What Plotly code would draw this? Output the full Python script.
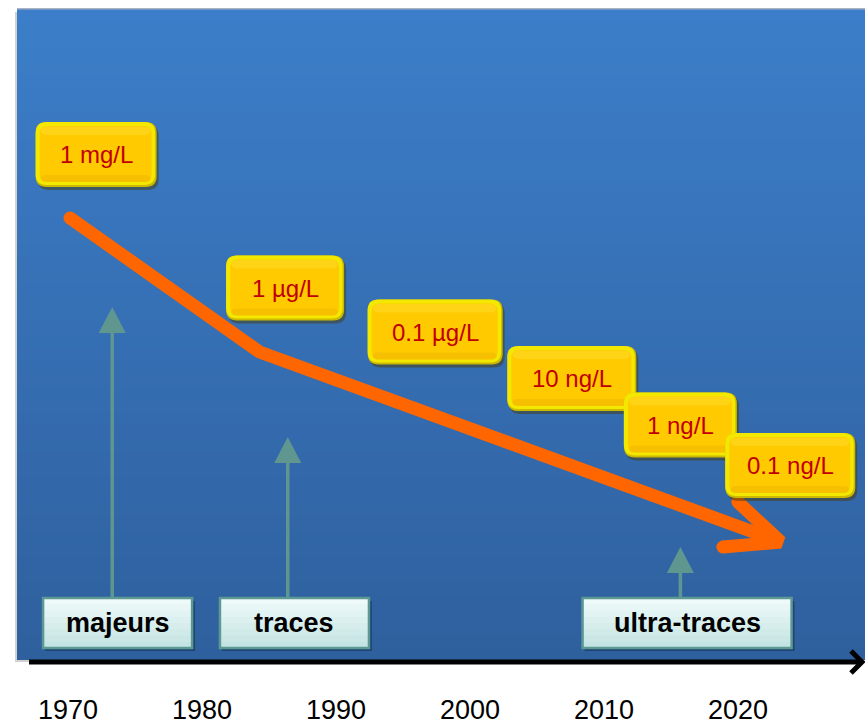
import plotly.graph_objects as go

# ---------------- data ----------------
years = [1970, 1980, 1990, 2000, 2010, 2020]
year_labels = ["1970", "1980", "1990", "2000", "2010", "2020"]

conc_labels = ["1 mg/L", "1 µg/L", "0.1 µg/L", "10 ng/L", "1 ng/L", "0.1 ng/L"]
conc_year = [1972.1, 1986.2, 1997.4, 2007.6, 2015.7, 2023.9]
conc_level = [154.5, 288, 332, 378.5, 425, 465.5]

categories = ["majeurs", "traces", "ultra-traces"]
cat_year = [1973.7, 1986.9, 2016.2]
cat_arrow_year = [1973.3, 1986.4, 2015.7]
cat_arrow_top = [307, 437, 547]

trend_year = [1970.15, 1984.3, 2023.2]
trend_level = [218, 352, 542]

# ---------------- style ----------------
W, H = 865, 724
PLOT_H = 662
PX_PER_YEAR = 13.4
X0 = 1970 - 68 / PX_PER_YEAR
X1 = X0 + W / PX_PER_YEAR

conc_box_w = [121, 118, 135, 129, 113, 130]
conc_box_h = 65
cat_box_w = [149, 149, 209]
cat_box_y = (598, 648)

ORANGE = "#ff6600"
TEAL = "#5f9690"


def X(px):
    return X0 + px / PX_PER_YEAR


def PX(yr):
    return (yr - X0) * PX_PER_YEAR


def PY(py):  # pixel -> paper (vertical)
    return (PLOT_H - py) / PLOT_H


def rr(x0, y0, x1, y1, r):
    """rounded rectangle path in data coords (x from px)."""
    pts = [
        f"M{X(x0 + r)},{y0}", f"L{X(x1 - r)},{y0}", f"Q{X(x1)},{y0} {X(x1)},{y0 + r}",
        f"L{X(x1)},{y1 - r}", f"Q{X(x1)},{y1} {X(x1 - r)},{y1}",
        f"L{X(x0 + r)},{y1}", f"Q{X(x0)},{y1} {X(x0)},{y1 - r}",
        f"L{X(x0)},{y0 + r}", f"Q{X(x0)},{y0} {X(x0 + r)},{y0}", "Z",
    ]
    return " ".join(pts)


def mix(c1, c2, t):
    return "rgb(%d,%d,%d)" % tuple(round(a + (b - a) * t) for a, b in zip(c1, c2))


shapes = []

# panel shadow (bottom / left)
shapes.append(dict(type="rect", xref="x", yref="y", x0=X(15), x1=X(865), y0=12, y1=664,
                   fillcolor="rgba(0,0,0,0.18)", line=dict(width=0), layer="below"))
shapes.append(dict(type="line", xref="x", yref="y", x0=X(17), x1=X(865), y0=9, y1=9,
                   line=dict(color="rgba(90,110,140,0.7)", width=1.5), layer="below"))
# panel gradient
top_c, bot_c = (60, 126, 201), (47, 96, 158)
N = 50
p_top, p_bot = 9.5, 660
h = (p_bot - p_top) / N
for i in range(N):
    shapes.append(dict(type="rect", xref="x", yref="y", x0=X(17), x1=X(866),
                       y0=p_top + i * h, y1=min(p_bot, p_top + (i + 1) * h + 2),
                       fillcolor=mix(top_c, bot_c, i / (N - 1)), line=dict(width=0), layer="below"))

# axis line + chevron (paper refs)
shapes.append(dict(type="line", xref="paper", yref="paper", x0=29 / W, x1=860 / W,
                   y0=PY(662), y1=PY(662), line=dict(color="black", width=5), layer="above"))
shapes.append(dict(type="path", xref="paper", yref="paper",
                   path=f"M{851 / W},{PY(651)} L{862 / W},{PY(662)} L{851 / W},{PY(673)}",
                   line=dict(color="black", width=5), layer="above"))

# grey arrows
for ay, top in zip(cat_arrow_year, cat_arrow_top):
    ax = PX(ay)
    shapes.append(dict(type="line", xref="x", yref="y", x0=ay, x1=ay, y0=cat_box_y[0], y1=top + 24,
                       line=dict(color=TEAL, width=3.5), layer="above"))
    shapes.append(dict(type="path", xref="x", yref="y",
                       path=f"M{X(ax)},{top} L{X(ax - 13.5)},{top + 26} L{X(ax + 13.5)},{top + 26} Z",
                       fillcolor=TEAL, line=dict(width=0), layer="above"))

# category boxes
c_top, c_bot = (238, 249, 249), (196, 228, 227)
for cy, w in zip(cat_year, cat_box_w):
    cx = PX(cy)
    x0, x1 = cx - w / 2, cx + w / 2
    y0, y1 = cat_box_y
    shapes.append(dict(type="rect", xref="x", yref="y", x0=X(x0 + 2), x1=X(x1 + 3), y0=y0 + 3, y1=y1 + 3,
                       fillcolor="rgba(0,0,0,0.28)", line=dict(width=0), layer="above"))
    M = 8
    hh = (y1 - y0) / M
    for i in range(M):
        shapes.append(dict(type="rect", xref="x", yref="y", x0=X(x0), x1=X(x1),
                           y0=y0 + i * hh, y1=min(y1, y0 + (i + 1) * hh + 1),
                           fillcolor=mix(c_top, c_bot, i / (M - 1)), line=dict(width=0), layer="above"))
    shapes.append(dict(type="rect", xref="x", yref="y", x0=X(x0), x1=X(x1), y0=y0, y1=y1,
                       fillcolor="rgba(0,0,0,0)", line=dict(color="#5c9894", width=2.5), layer="above"))

# yellow concentration boxes
for yr, lev, w in zip(conc_year, conc_level, conc_box_w):
    cx = PX(yr)
    x0, x1 = cx - w / 2, cx + w / 2
    y0, y1 = lev - conc_box_h / 2, lev + conc_box_h / 2
    shapes.append(dict(type="path", xref="x", yref="y", path=rr(x0 + 2, y0 + 3, x1 + 2, y1 + 3, 11),
                       fillcolor="rgba(70,60,10,0.5)", line=dict(width=0), layer="above"))
    shapes.append(dict(type="path", xref="x", yref="y", path=rr(x0, y0, x1, y1, 11),
                       fillcolor="#cdb900", line=dict(width=0), layer="above"))
    shapes.append(dict(type="path", xref="x", yref="y", path=rr(x0, y0, x1 - 1.5, y1 - 2, 11),
                       fillcolor="#f3e800", line=dict(width=0), layer="above"))
    shapes.append(dict(type="path", xref="x", yref="y", path=rr(x0 + 4, y0 + 4, x1 - 5, y1 - 5, 8),
                       fillcolor="#ffca00", line=dict(width=0), layer="above"))
    shapes.append(dict(type="path", xref="x", yref="y", path=rr(x0 + 5, y0 + 4.5, x1 - 6, y0 + 13, 6),
                       fillcolor="rgba(255,220,40,0.55)", line=dict(width=0), layer="above"))
    shapes.append(dict(type="path", xref="x", yref="y", path=rr(x0 + 5, y1 - 12, x1 - 6, y1 - 5, 5),
                       fillcolor="rgba(235,178,0,0.45)", line=dict(width=0), layer="above"))

fig = go.Figure()

# orange trend arrow
fig.add_trace(go.Scatter(x=trend_year, y=trend_level, mode="lines",
                         line=dict(color=ORANGE, width=13), hoverinfo="skip", showlegend=False))
tip_px = PX(trend_year[-1])
tip_y = trend_level[-1]
barb_x = [X(tip_px - 43), trend_year[-1], X(tip_px - 58)]
barb_y = [tip_y - 40, tip_y, tip_y + 5]
fig.add_trace(go.Scatter(x=barb_x, y=barb_y, mode="lines",
                         line=dict(color=ORANGE, width=13), hoverinfo="skip", showlegend=False))
fig.add_trace(go.Scatter(x=[trend_year[0], barb_x[0], barb_x[2]], y=[trend_level[0], barb_y[0], barb_y[2]],
                         mode="markers", marker=dict(color=ORANGE, size=13, line=dict(width=0)),
                         hoverinfo="skip", showlegend=False))

annotations = []
for lab, yr, lev in zip(conc_labels, conc_year, conc_level):
    annotations.append(dict(x=yr, y=lev, xref="x", yref="y", text=lab, showarrow=False,
                            font=dict(family="Liberation Sans, Arial, sans-serif",
                                      size=24, color="#c00000")))
for lab, yr in zip(categories, cat_year):
    annotations.append(dict(x=yr, y=(cat_box_y[0] + cat_box_y[1]) / 2, xref="x", yref="y",
                            text=f"<b>{lab}</b>", showarrow=False,
                            font=dict(family="Liberation Sans, Arial, sans-serif", size=27, color="black")))

fig.update_layout(
    width=W, height=H,
    margin=dict(l=0, r=0, t=0, b=H - PLOT_H, pad=0),
    paper_bgcolor="white", plot_bgcolor="white",
    shapes=shapes, annotations=annotations,
    xaxis=dict(range=[X0, X1], showgrid=False, zeroline=False, showline=False, ticks="",
               tickvals=years, ticktext=year_labels, ticklabelstandoff=29,
               tickfont=dict(family="Liberation Sans, Arial, sans-serif", size=27, color="black"),
               automargin=False, fixedrange=True),
    yaxis=dict(range=[PLOT_H, 0], visible=False, automargin=False, fixedrange=True),
)

fig.write_html("out.html")
